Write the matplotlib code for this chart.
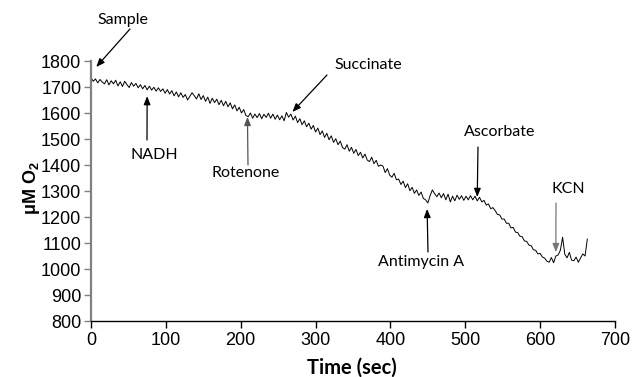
import numpy as np
import matplotlib
matplotlib.use("Agg")
import matplotlib.pyplot as plt

# ---- data ----
time_step = 3
o2_values = [
    1736, 1722, 1731, 1716, 1729, 1719, 1712, 1728, 1708, 1724,
    1712, 1726, 1704, 1720, 1702, 1722, 1709, 1698, 1717, 1703,
    1714, 1697, 1709, 1693, 1706, 1689, 1703, 1688, 1699, 1684,
    1697, 1683, 1693, 1676, 1690, 1673, 1686, 1666, 1681, 1662,
    1678, 1660, 1671, 1650, 1664, 1678, 1666, 1654, 1674, 1652,
    1667, 1645, 1661, 1637, 1657, 1640, 1653, 1632, 1649, 1628,
    1645, 1624, 1639, 1616, 1631, 1608, 1622, 1600, 1613, 1590,
    1586, 1600, 1580, 1596, 1582, 1598, 1578, 1595, 1583, 1599,
    1580, 1596, 1576, 1592, 1574, 1589, 1570, 1602, 1584, 1596,
    1573, 1588, 1563, 1578, 1555, 1570, 1547, 1561, 1538, 1552,
    1527, 1542, 1517, 1531, 1506, 1522, 1497, 1512, 1487, 1501,
    1478, 1492, 1467, 1461, 1478, 1453, 1468, 1445, 1460, 1436,
    1449, 1427, 1442, 1419, 1413, 1430, 1405, 1418, 1395, 1400,
    1396, 1371, 1386, 1361, 1353, 1368, 1343, 1346, 1325, 1338,
    1313, 1328, 1301, 1314, 1291, 1304, 1283, 1296, 1271, 1266,
    1254, 1282, 1304, 1290, 1278, 1292, 1274, 1290, 1266, 1288,
    1258, 1280, 1262, 1284, 1268, 1282, 1264, 1280, 1266, 1282,
    1266, 1280, 1262, 1276, 1258, 1264, 1246, 1250, 1232, 1236,
    1224, 1210, 1208, 1192, 1192, 1176, 1176, 1158, 1160, 1142,
    1140, 1126, 1124, 1108, 1106, 1092, 1090, 1074, 1072, 1058,
    1060, 1046, 1042, 1030, 1026, 1044, 1024, 1050, 1054, 1072,
    1122, 1056, 1043, 1064, 1034, 1032, 1046, 1026, 1042, 1058, 1050, 1115,
]
times = [i * time_step for i in range(len(o2_values))]

events = ["Sample", "NADH", "Rotenone", "Succinate", "Antimycin A", "Ascorbate", "KCN"]
event_tip_t = [7, 75, 209, 269, 449, 516, 621]
event_tip_v = [1777, 1665, 1585, 1604, 1231, 1277, 1065]

x_ticks = [0, 100, 200, 300, 400, 500, 600, 700]
y_ticks = [800, 900, 1000, 1100, 1200, 1300, 1400, 1500, 1600, 1700, 1800]

# ---- figure ----
W, H = 632, 377
fig = plt.figure(figsize=(W / 100, H / 100), dpi=100)
ax = fig.add_axes([91 / W, 1 - 321 / H, (615 - 91) / W, (321 - 61) / H])

ax.plot(times, o2_values, color="black", lw=0.7)
ax.set_xlim(0, 700)
ax.set_ylim(800, 1800)
ax.set_xticks(x_ticks)
ax.set_yticks(y_ticks)
for s in ["top", "right"]:
    ax.spines[s].set_visible(False)
ax.spines["left"].set_color("#808080")
ax.spines["left"].set_linewidth(1.6)
ax.spines["bottom"].set_color("black")
ax.spines["bottom"].set_linewidth(1.0)
ax.tick_params(axis="y", direction="out", length=5, width=1, color="#808080",
               labelsize=13, pad=2)
ax.tick_params(axis="x", direction="out", length=5, width=1, color="black",
               labelsize=13, pad=3)
for lab in ax.get_xticklabels() + ax.get_yticklabels():
    lab.set_fontfamily("Liberation Sans")

fig.text(352 / W, 1 - 368 / H, "Time (sec)", ha="center", va="center",
         fontsize=14.5, fontweight="bold", family="Lato")
fig.text(31 / W, 1 - 188 / H, "μM O$_\\mathregular{2}$", ha="center", va="center",
         rotation=90, fontsize=13, fontweight="bold", family="Liberation Sans")

# text positions in pixel coords (centre) and arrow tail pixels
text_px = [(123, 20), (154, 155), (246, 173), (368, 65), (421, 262), (500, 132), (568, 189)]
tail_px = [(130, 29), (147, 140), (248, 165), (327, 75), (428, 252), (478, 147), (556, 203)]
arrow_cols = ["black", "black", "#555555", "black", "black", "black", "#777777"]


def px2data(px, py):
    return ((px - 91) / 0.7486, 1800 - (py - 61) / 0.26)


for name, tt, vv, (tx, ty), (ax_px, ay_px), c in zip(events, event_tip_t, event_tip_v,
                                                     text_px, tail_px, arrow_cols):
    ax.annotate("", xy=(tt, vv), xytext=px2data(ax_px, ay_px),
                arrowprops=dict(arrowstyle="-|>,head_length=0.5,head_width=0.2",
                                color=c, lw=0.9, shrinkA=0, shrinkB=0),
                annotation_clip=False)
    dx, dy = px2data(tx, ty)
    ax.text(dx, dy, name, ha="center", va="center", fontsize=11.5,
            family="Lato", clip_on=False)

fig.savefig("out.png", dpi=100)
